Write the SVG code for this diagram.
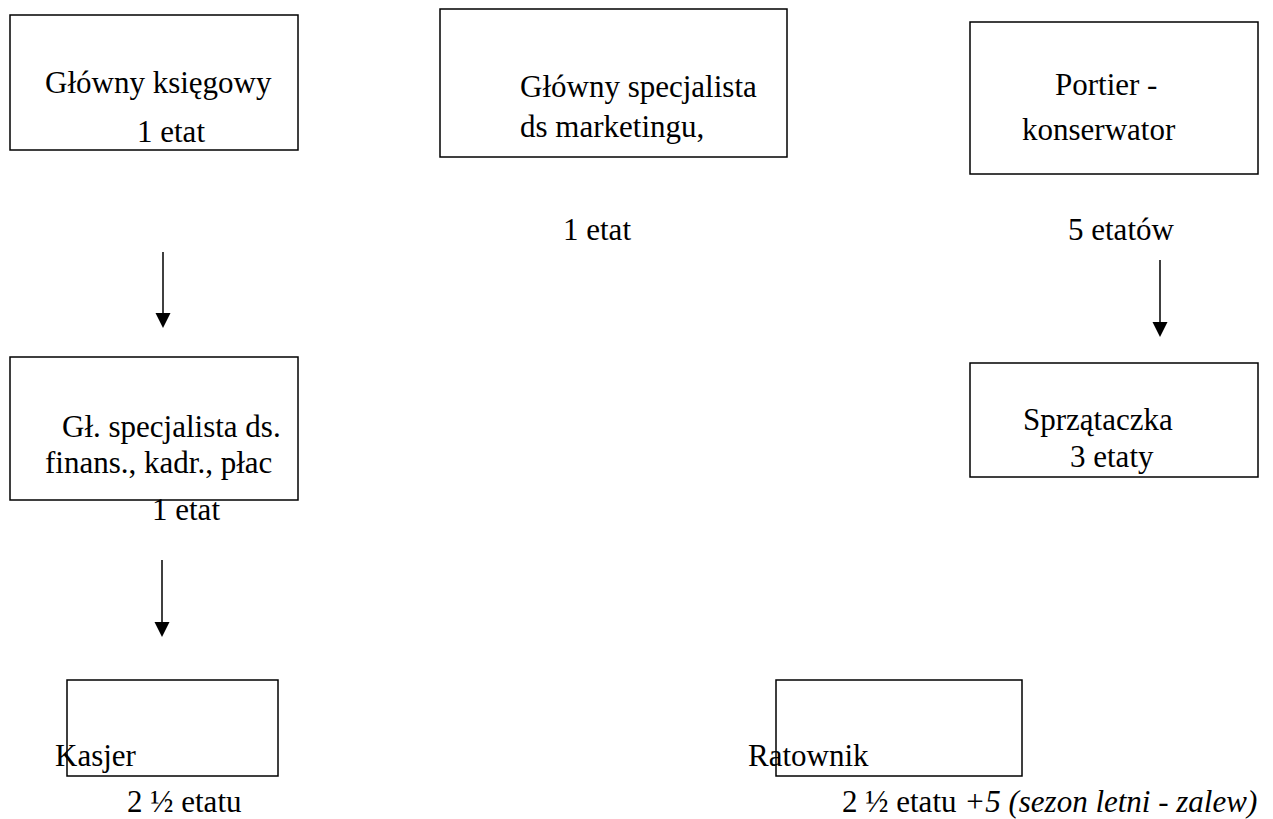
<svg xmlns="http://www.w3.org/2000/svg" width="1273" height="819" viewBox="0 0 1273 819">
<style>
rect.box{fill:none;stroke:#000;stroke-width:1.5}
text{font-size:31px;fill:#000}
.it{font-style:italic}
line.c{stroke:#000;stroke-width:1.5}
</style>
<rect width="1273" height="819" fill="#fff"/>
<g font-family="'Liberation Serif', 'Times New Roman', 'DejaVu Serif', serif">
<g id="n1"><rect class="box" x="10" y="15" width="288" height="135"/><text x="45" y="93">Główny księgowy</text><text x="137" y="142">1 etat</text></g>
<g id="n2"><rect class="box" x="440" y="9" width="347" height="148"/><text x="520" y="97">Główny specjalista</text><text x="520" y="137">ds marketingu,</text></g>
<text x="563" y="240">1 etat</text>
<g id="n3"><rect class="box" x="970" y="22" width="288" height="152"/><text x="1055" y="95">Portier -</text><text x="1022" y="140">konserwator</text></g>
<text x="1068" y="240">5 etatów</text>
<g id="n4"><rect class="box" x="10" y="357" width="288" height="143"/><text x="62" y="437">Gł. specjalista ds.</text><text x="45" y="473">finans., kadr., płac</text></g>
<text x="152" y="520">1 etat</text>
<g id="n5"><rect class="box" x="970" y="363" width="288" height="114"/><text x="1023" y="430">Sprzątaczka</text><text x="1070" y="467">3 etaty</text></g>
<g id="n6"><rect class="box" x="67" y="680" width="211" height="96"/><text x="55" y="766">Kasjer</text></g>
<text x="127" y="812">2 ½ etatu</text>
<g id="n7"><rect class="box" x="776" y="680" width="246" height="96"/><text x="748" y="766">Ratownik</text></g>
<text x="842" y="812">2 ½ etatu <tspan class="it">+5 (sezon letni - zalew)</tspan></text>
</g>
<g id="connectors">
<line class="c" x1="163" y1="252" x2="163" y2="314"/><polygon points="155.5,313 170.5,313 163,328"/>
<line class="c" x1="1160" y1="260" x2="1160" y2="323"/><polygon points="1152.5,322 1167.5,322 1160,337"/>
<line class="c" x1="162" y1="560" x2="162" y2="623"/><polygon points="154.5,622 169.5,622 162,637"/>
</g>
</svg>
